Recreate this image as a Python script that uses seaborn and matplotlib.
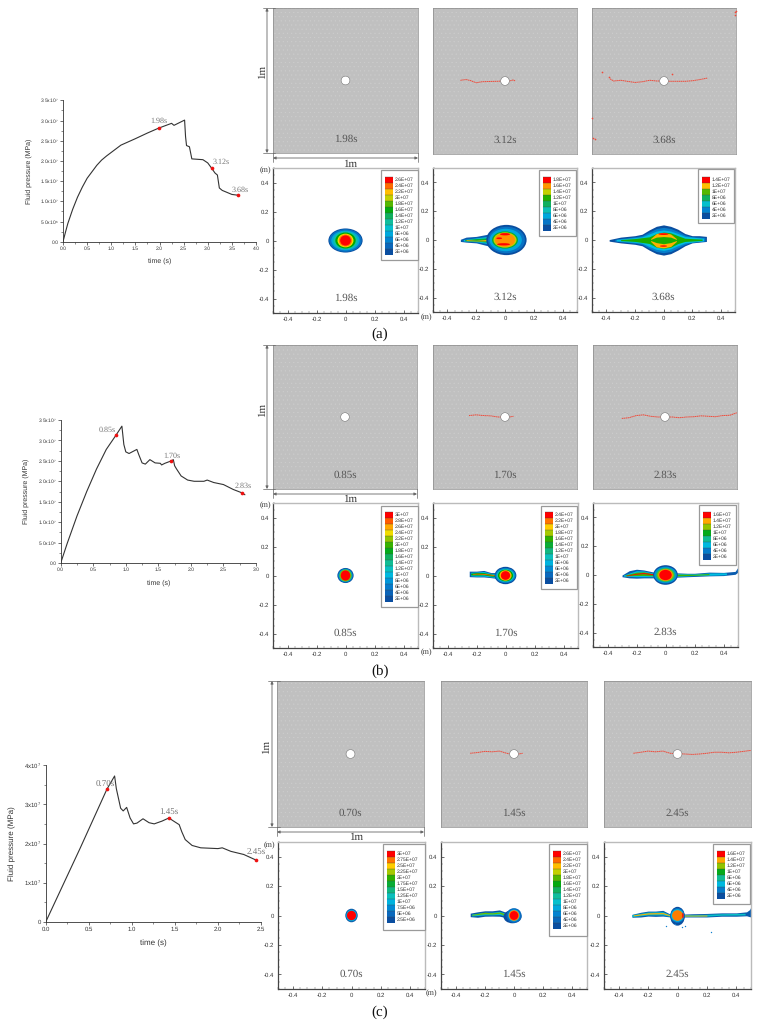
import matplotlib
matplotlib.use("Agg")
import matplotlib.pyplot as plt
from matplotlib.colors import LinearSegmentedColormap
from matplotlib.patches import Ellipse, Rectangle, Circle
from matplotlib.ticker import MultipleLocator
import pandas as pd
import seaborn as sns

# ---------- pressure curves (time s, pressure x 1e7 MPa) ----------
t_a = [0, .05, .1, .2, .3, .4, .5, .6, .7, .8, .9, 1, 1.2, 1.5, 1.75, 1.98, 2.25, 2.3, 2.52, 2.54, 2.56, 2.62, 2.67, 2.9, 3.0, 3.08, 3.15, 3.2, 3.24, 3.3, 3.5, 3.63]
p_a = [0, .23, .45, .8, 1.1, 1.35, 1.57, 1.73, 1.89, 2.02, 2.12, 2.21, 2.39, 2.55, 2.69, 2.81, 2.93, 2.88, 3.01, 2.6, 2.38, 2.35, 2.05, 2.03, 1.95, 1.82, 1.7, 1.65, 1.33, 1.27, 1.17, 1.15]
t_b = [0, .1, .25, .4, .55, .7, .85, .94, .97, 1.0, 1.05, 1.17, 1.2, 1.25, 1.3, 1.37, 1.45, 1.53, 1.55, 1.6, 1.7, 1.73, 1.75, 1.78, 1.85, 1.95, 2.05, 2.2, 2.25, 2.35, 2.5, 2.65, 2.78, 2.83]
p_b = [0, .48, 1.15, 1.75, 2.3, 2.78, 3.13, 3.35, 2.9, 2.72, 2.68, 2.78, 2.65, 2.45, 2.42, 2.53, 2.45, 2.44, 2.4, 2.44, 2.5, 2.53, 2.38, 2.3, 2.13, 2.03, 2.0, 2.0, 2.03, 1.97, 1.92, 1.8, 1.72, 1.67]
t_c = [0, .4, .71, .8, .82, .85, .87, .9, .94, .98, 1.02, 1.06, 1.13, 1.2, 1.26, 1.35, 1.43, 1.5, 1.55, 1.58, 1.62, 1.7, 1.8, 2.0, 2.05, 2.15, 2.3, 2.44]
p_c = [0, 1.88, 3.38, 3.72, 3.4, 3.1, 2.9, 2.83, 2.92, 2.65, 2.5, 2.52, 2.63, 2.53, 2.5, 2.57, 2.65, 2.55, 2.48, 2.3, 2.1, 1.95, 1.89, 1.87, 1.89, 1.8, 1.72, 1.58]
mark_t_a = [1.98, 3.08, 3.63]; mark_p_a = [2.81, 1.82, 1.15]
mark_t_b = [.85, 1.69, 2.78]; mark_p_b = [3.13, 2.5, 1.72]
mark_t_c = [.71, 1.43, 2.44]; mark_p_c = [3.38, 2.65, 1.58]
times_a = ["1.98s", "3.12s", "3.68s"]
times_b = ["0.85s", "1.70s", "2.83s"]
times_c = ["0.70s", "1.45s", "2.45s"]
yt_a = ["0.0", "5.0x10$^{6}$", "1.0x10$^{7}$", "1.5x10$^{7}$", "2.0x10$^{7}$", "2.5x10$^{7}$", "3.0x10$^{7}$", "3.5x10$^{7}$"]
yt_c = ["0", "1x10$^{7}$", "2x10$^{7}$", "3x10$^{7}$", "4x10$^{7}$"]

# ---------- legend levels ----------
lv_a1 = ["2.6E+07", "2.4E+07", "2.2E+07", "2E+07", "1.8E+07", "1.6E+07", "1.4E+07", "1.2E+07", "1E+07", "8E+06", "6E+06", "4E+06", "2E+06"]
lv_a2 = lv_a1[4:]
lv_a3 = lv_a1[6:]
lv_b1 = ["3E+07", "2.8E+07"] + lv_a1
lv_b2 = lv_a1[1:]
lv_b3 = lv_a1[5:]
lv_c1 = ["3E+07", "2.75E+07", "2.5E+07", "2.25E+07", "2E+07", "1.75E+07", "1.5E+07", "1.25E+07", "1E+07", "7.5E+06", "5E+06", "2.5E+06"]
lv_c2 = lv_a1
lv_c3 = lv_a1[5:]

# ---------- crack traces (x, y in m) ----------
crack_a2_x = [-.31, -.27, -.24, -.2, -.16, -.1, -.05, -.02, .03, .06, .07]
crack_a2_y = [.005, .01, .003, -.012, -.005, -.003, -.002, 0, 0, .008, 0]
crack_a3_x = [-.375, -.35, -.3, -.25, -.2, -.15, -.1, -.05, -.02, .05, .1, .15, .2, .25, .3]
crack_a3_y = [.015, .0, .005, -.003, -.01, -.005, .005, 0, 0, -.002, -.002, -.002, .002, .01, .02]
spots_a3_x = [-.43, -.38, .055, .49, .495, .5, -.5, -.495, -.48]
spots_a3_y = [.06, .03, .05, .47, .45, .48, -.25, -.39, -.4]
crack_b2_x = [-.25, -.2, -.15, -.1, -.05, -.02]
crack_b2_y = [.01, .015, .01, .008, 0, 0]
crack_b2r_x = [.03, .06]
crack_b2r_y = [0, .005]
crack_b3_x = [-.3, -.25, -.2, -.15, -.1, -.05, .05, .1, .15, .2, .25, .3, .35, .4, .45, .5]
crack_b3_y = [-.01, -.005, .01, .015, .005, 0, 0, -.005, 0, .002, .008, .005, .002, .01, .012, .03]
crack_c2_x = [-.3, -.25, -.2, -.15, -.1, -.05, -.02, .03, .06]
crack_c2_y = [.005, .01, .018, .015, .02, .005, 0, 0, .005]
crack_c3_x = [-.3, -.25, -.2, -.15, -.1, -.05, .05, .1, .15, .2, .25, .3, .35, .4, .45, .5]
crack_c3_y = [.005, .012, .02, .015, .02, .005, 0, -.003, 0, .005, .012, .012, .008, .012, .018, .025]

# ---------- pressure fields: (level, cx, cy, rx, ry) and (level, x, top, bottom) ----------
ell_a1 = [(0, 0, 0, .118, .083), (.12, 0, 0, .112, .078), (.25, 0, 0, .098, .068), (.4, 0, 0, .085, .062),
          (.6, 0, 0, .07, .055), (.8, 0, 0, .055, .047), (.9, 0, 0, .046, .042), (1, 0, 0, .037, .035)]
band_a2 = [(.05, [-.31, -.27, -.2, -.12, -.07], [.005, .02, .025, .04, .08], [-.01, -.015, -.02, -.04, -.07]),
           (.3, [-.29, -.2, -.12, -.07], [.003, .015, .025, .05], [-.007, -.012, -.025, -.05]),
           (.55, [-.28, -.2, -.12, -.07], [.002, .01, .015, .035], [-.005, -.008, -.015, -.035]),
           (.85, [-.27, -.2, -.12, -.05], [.002, -.002, .004, .012], [-.004, -.006, -.006, -.012])]
ell_a2 = [(0, .01, 0, .14, .105), (.12, .01, 0, .128, .092), (.25, .005, 0, .112, .078), (.55, 0, 0, .09, .06),
          (.75, 0, 0, .08, .053), (.88, 0, 0, .07, .048)]
red_a2 = [(1, 0, .04, .035, .008), (1, -.01, -.03, .045, .008), (1, -.04, .012, .02, .006)]
band_a3 = [(0, [-.38, -.3, -.2, -.15, -.1, -.05, 0, .05, .1, .15, .2, .25, .3],
            [.003, .02, .03, .04, .07, .095, .105, .095, .075, .045, .03, .03, .025],
            [-.008, -.02, -.03, -.04, -.07, -.095, -.105, -.095, -.07, -.04, -.02, -.015, -.01]),
           (.15, [-.34, -.2, -.15, -.1, -.05, 0, .05, .1, .15, .2, .29],
            [.005, .022, .03, .055, .08, .088, .08, .06, .035, .022, .018],
            [-.008, -.022, -.03, -.058, -.08, -.088, -.08, -.055, -.03, -.015, -.008]),
           (.3, [-.33, -.2, -.15, -.1, -.05, 0, .05, .1, .15, .28],
            [.004, .016, .022, .042, .062, .07, .062, .045, .025, .012],
            [-.006, -.016, -.022, -.045, -.065, -.072, -.062, -.04, -.02, -.006]),
           (.62, [-.3, -.2, -.1, -.05, 0, .05, .1, .15, .27],
            [.003, .01, .022, .045, .055, .05, .03, .012, .006],
            [-.004, -.01, -.024, -.05, -.058, -.05, -.025, -.01, -.003]),
           (.85, [-.09, -.05, 0, .05, .09], [.01, .045, .052, .042, .01], [-.01, -.048, -.055, -.045, -.01]),
           (.62, [-.1, -.05, 0, .05, .1], [0, .02, .024, .02, 0], [0, -.018, -.026, -.018, 0])]
red_a3 = [(1, .0, .041, .035, .006), (1, .0, -.042, .025, .005)]
ell_b1 = [(0, 0, 0, .056, .052), (.2, 0, 0, .05, .047), (.45, 0, 0, .044, .042), (.7, 0, 0, .04, .04), (1, 0, 0, .033, .035)]
band_b2 = [(.05, [-.25, -.2, -.15, -.1, -.06], [.03, .03, .035, .02, .02], [-.008, -.01, -.01, -.015, -.02]),
           (.3, [-.24, -.2, -.15, -.1, -.06], [.022, .024, .028, .014, .012], [-.002, -.005, -.004, -.01, -.012]),
           (.6, [-.24, -.2, -.15, -.1, -.06], [.016, .02, .02, .01, .006], [.004, .003, .004, -.004, -.006]),
           (.92, [-.23, -.2, -.15, -.1, -.05], [.012, .016, .014, .008, .002], [.008, .01, .008, .002, -.002])]
ell_b2 = [(0, 0, 0, .075, .06), (.15, 0, 0, .07, .052), (.35, 0, 0, .062, .045), (.6, 0, 0, .052, .04), (.85, 0, 0, .042, .036), (1, 0, 0, .032, .03)]
band_b3 = [(.05, [-.3, -.25, -.2, -.15, -.08, .08, .15, .2, .3, .4, .48, .5],
            [.0, .03, .04, .035, .02, .015, .012, .012, .02, .018, .025, .055],
            [-.012, -.02, -.022, -.02, -.02, -.015, -.012, -.01, -.006, -.004, .005, .02]),
           (.3, [-.29, -.2, -.15, -.08, .08, .2, .3, .42], [.0, .03, .028, .012, .01, .008, .014, .015], [-.008, -.012, -.012, -.012, -.01, -.004, -.002, .002]),
           (.65, [-.28, -.2, -.15, -.08, .08, .2, .3], [.0, .02, .022, .008, .006, .005, .01], [-.005, -.004, -.003, -.006, -.006, -.002, .002]),
           (1, [-.27, -.2, -.15, -.06], [-.002, .012, .017, .005], [-.006, .006, .01, -.002])]
ell_b3 = [(0, 0, 0, .085, .068), (.2, 0, 0, .078, .058), (.45, 0, 0, .068, .05), (.7, 0, 0, .058, .044), (.88, 0, 0, .05, .04), (1, 0, 0, .043, .036)]
ell_c1 = [(0, 0, 0, .042, .046), (.25, 0, 0, .037, .04), (1, 0, 0, .031, .032)]
band_c2 = [(.03, [-.3, -.25, -.2, -.15, -.1, -.05], [.016, .025, .032, .032, .038, .02], [-.008, -.012, -.005, -.004, -.005, -.015]),
           (.35, [-.29, -.2, -.15, -.1, -.05], [.01, .022, .022, .028, .014], [-.003, .004, .004, .006, -.006]),
           (.68, [-.29, -.2, -.15, -.1, -.05], [.007, .022, .018, .024, .008], [.002, .012, .01, .015, -.002])]
ell_c2 = [(0, -.01, -.008, .062, .045), (.1, 0, 0, .052, .05), (.3, 0, 0, .04, .04), (.9, 0, 0, .036, .036), (1, 0, 0, .029, .03)]
band_c3 = [(.05, [-.31, -.25, -.2, -.15, -.1, -.05, .05, .1, .2, .3, .4, .47, .49, .5],
            [.008, .022, .03, .03, .035, .01, .01, .012, .014, .018, .018, .025, .04, .06],
            [-.012, -.01, -.004, -.006, -.004, -.01, -.01, -.01, -.01, -.005, -.005, -.002, -.008, -.01]),
           (.35, [-.31, -.2, -.1, -.05, .05, .1, .2, .3, .46], [.006, .024, .026, .006, .006, .006, .008, .012, .015], [-.008, .004, .004, -.006, -.006, -.006, -.004, .002, .004]),
           (.85, [-.3, -.2, -.1, -.05, .05, .1, .2], [.004, .018, .02, .003, .003, .002, .003], [-.002, .01, .012, -.003, -.003, -.003, -.003])]
ell_c3 = [(0, 0, -.005, .05, .064), (.12, 0, 0, .048, .05), (.3, 0, 0, .044, .042), (.9, 0, 0, .037, .036)]
red_c3 = [(1, .037, 0, .005, .02)]
spots_c3_x = [-.08, .05, .23, -.02, .03]
spots_c3_y = [-.07, -.07, -.115, -.06, -.075]

# ---------- styling ----------
sns.set_theme(style="ticks")
plt.rcParams["font.family"] = ["Liberation Sans", "DejaVu Sans"]
plt.rcParams["mathtext.default"] = "regular"
plt.rcParams["hatch.linewidth"] = 0.3
plt.rcParams["text.hinting"] = "no_hinting"
plt.rcParams["text.hinting_factor"] = 1
W, H = 758, 1024
fig = plt.figure(figsize=(W / 100, H / 100), dpi=100, facecolor="white")
SERIF = "Liberation Serif"
cmap = LinearSegmentedColormap.from_list("tecplot", [
    (0, "#0a4ea0"), (.1, "#0a6cc0"), (.2, "#0090d8"), (.3, "#00c0e0"), (.4, "#10c0a8"), (.5, "#10b060"),
    (.6, "#00a800"), (.7, "#80c000"), (.8, "#ffe000"), (.9, "#ff8000"), (1, "#ff0000")])


def px_axes(x0, y0, x1, y1):
    return fig.add_axes([x0 / W, 1 - y1 / H, (x1 - x0) / W, (y1 - y0) / H])


def curve_panel(box, t, p, mt, mp, labels, label_xy, xmax, xstep, ymax, ystep, yticks, fs, ls, title_fs, xlab_off, ylab_off):
    ax = px_axes(*box)
    sns.lineplot(data=pd.DataFrame({"t": t, "p": p}), x="t", y="p", ax=ax, color="#333333", lw=0.8, sort=False, errorbar=None)
    sns.scatterplot(data=pd.DataFrame({"t": mt, "p": mp}), x="t", y="p", ax=ax, color="#ee1111", s=7, linewidth=0, zorder=5, clip_on=False)
    ax.set_xlim(0, xmax)
    ax.set_ylim(0, ymax)
    ax.xaxis.set_major_locator(MultipleLocator(xstep))
    ax.xaxis.set_minor_locator(MultipleLocator(xstep / 2))
    ax.set_yticks([i * ystep for i in range(len(yticks))], yticks)
    ax.yaxis.set_minor_locator(MultipleLocator(ystep / 2))
    ax.tick_params(which="major", length=2.2, width=0.5, labelsize=fs, pad=1, color="#333333", labelcolor="#333333")
    ax.tick_params(which="minor", length=1.2, width=0.4, color="#333333")
    ax.set_xlabel("time (s)", fontsize=title_fs, labelpad=xlab_off, color="#333333")
    ax.set_ylabel("Fluid pressure (MPa)", fontsize=title_fs, labelpad=ylab_off, color="#333333")
    sns.despine(ax=ax)
    for s in ("left", "bottom"):
        ax.spines[s].set_linewidth(0.6)
        ax.spines[s].set_color("#333333")
    for txt, (x, y) in zip(labels, label_xy):
        ax.text(x, y, txt, family=SERIF, fontsize=ls, color="#777777", ha="center", va="center")
    return ax


def gray_panel(box, time_label, crack_sets=(), spots=None, text_y=.095):
    ax = px_axes(*box)
    ax.set_xlim(-.5, .5)
    ax.set_ylim(-.5, .5)
    ax.set_xticks([])
    ax.set_yticks([])
    ax.set_facecolor("#c0c0c0")
    ax.add_patch(Rectangle((-.5, -.5), 1, 1, facecolor="none", edgecolor="#cdcdcd", hatch="....", lw=0))
    for s in ax.spines.values():
        s.set_linewidth(0.5)
        s.set_color("#8a8a8a")
        s.set_linestyle((0, (2, 1)))
    for cx, cy in crack_sets:
        sns.lineplot(x=cx, y=cy, ax=ax, color="#f04a3a", lw=0.7, ls=(0, (1.5, 0.5)), sort=False, errorbar=None)
    if spots is not None:
        ax.scatter(spots[0], spots[1], s=1.5, color="#f04a3a", linewidths=0, clip_on=False, zorder=4)
    ax.add_patch(Circle((0, 0), .03, facecolor="white", edgecolor="#777777", lw=0.4, zorder=5))
    ax.text(.5, text_y, time_label, transform=ax.transAxes, family=SERIF, fontsize=8, color="#555555", ha="center", va="center")
    return ax


def field_panel(box, time_label, layers, spots=None, text_y=.1):
    ax = px_axes(*box)
    ax.set_xlim(-.5, .5)
    ax.set_ylim(-.5, .5)
    ax.set_xticks([-.4, -.2, 0, .2, .4], ["-0.4", "-0.2", "0", "0.2", "0.4"])
    ax.set_yticks([-.4, -.2, 0, .2, .4], ["-0.4", "-0.2", "0", "0.2", "0.4"])
    ax.xaxis.set_minor_locator(MultipleLocator(.05))
    ax.yaxis.set_minor_locator(MultipleLocator(.05))
    ax.tick_params(which="major", direction="in", length=2.5, width=0.5, labelsize=4, pad=2.5, color="#333333", labelcolor="#333333")
    ax.tick_params(which="minor", direction="in", length=1.2, width=0.3, color="#555555")
    for s in ("left", "bottom"):
        ax.spines[s].set_linewidth(0.9)
        ax.spines[s].set_color("#444444")
    for s in ("top", "right"):
        ax.spines[s].set_linewidth(1.0)
        ax.spines[s].set_color("#bbbbbb")
    for layer in layers:
        if len(layer) == 5:
            lvl, cx, cy, rx, ry = layer
            ax.add_patch(Ellipse((cx, cy), 2 * rx, 2 * ry, facecolor=cmap(float(lvl)), edgecolor="none"))
        else:
            lvl, xs, top, bot = layer
            ax.fill_between(xs, bot, top, color=cmap(float(lvl)), linewidth=0)
    if spots is not None:
        ax.scatter(spots[0], spots[1], s=1, color="#1080d0", linewidths=0)
    ax.text(.5, text_y, time_label, transform=ax.transAxes, family=SERIF, fontsize=8, color="#555555", ha="center", va="center")
    return ax


over = fig.add_axes([0, 0, 1, 1], zorder=20)
over.set_xlim(0, W)
over.set_ylim(H, 0)
over.axis("off")
over.patch.set_alpha(0)


def legend_box(x0, y0, x1, y1, first, labels):
    over.add_patch(Rectangle((x0, y0), x1 - x0, y1 - y0, facecolor="white", edgecolor="#9a9a9a", lw=0.9))
    n = len(labels)
    for i, lab in enumerate(labels):
        f = 1 - i / (n - 1)
        yy = first + 6 * i
        over.add_patch(Rectangle((x0 + 3.5, yy), 8, 6, facecolor=cmap(float(f)), edgecolor="none"))
        over.plot([x0 + 3.5, x0 + 11.5], [yy, yy], color="#444444", lw=0.25)
        over.text(x0 + 14, yy + 3, lab, fontsize=3.4, color="#333333", va="center", ha="left")


def dim_marks(vx, vy0, vy1, hy, hx0, hx1, vtext, htext):
    for (a, b) in [((vx, vy0), (vx, vy1)), ((hx0, hy), (hx1, hy))]:
        over.annotate("", xy=a, xytext=b, arrowprops=dict(arrowstyle="<|-|>", lw=0.6, color="#666666", mutation_scale=4, shrinkA=0, shrinkB=0))
    over.plot([vx - 4, vx + 8], [vy0, vy0], color="#666666", lw=0.5)
    over.plot([vx - 4, vx + 8], [vy1, vy1], color="#666666", lw=0.5)
    over.plot([hx0, hx0], [hy - 5, hy + 4], color="#666666", lw=0.5)
    over.plot([hx1, hx1], [hy - 5, hy + 4], color="#666666", lw=0.5)
    over.text(vtext[0], vtext[1], "1m", rotation=90, family=SERIF, fontsize=8, color="#333333", ha="center", va="center")
    over.text(htext[0], htext[1], "1m", family=SERIF, fontsize=8, color="#333333", ha="center", va="center")


# ---------- pressure curves ----------
curve_panel((63, 100.3, 256, 241.7), t_a, p_a, mark_t_a, mark_p_a, times_a,
            [(1.98, 2.98), (3.27, 1.97), (3.67, 1.28)], 4, .5, 3.5, .5, yt_a, 3.4, 5.5, 4.8, 5, 6)
curve_panel((60.7, 420, 256, 563), t_b, p_b, mark_t_b, mark_p_b, times_b,
            [(.72, 3.25), (1.71, 2.63), (2.8, 1.89)], 3, .5, 3.5, .5, yt_a, 3.4, 5.5, 4.8, 5, 6)
curve_panel((45.7, 765, 261, 922), t_c, p_c, mark_t_c, mark_p_c, times_c,
            [(.69, 3.51), (1.43, 2.79), (2.44, 1.77)], 2.5, .5, 4, 1, yt_c, 4, 6.5, 5.6, 5.5, 6)

# ---------- specimen views ----------
gray_panel((273, 8, 418, 153), times_a[0])
gray_panel((433, 8, 577, 154), times_a[1], [(crack_a2_x, crack_a2_y)])
gray_panel((592, 8, 736, 154), times_a[2], [(crack_a3_x, crack_a3_y)], (spots_a3_x, spots_a3_y))
gray_panel((273, 345, 417, 489), times_b[0])
gray_panel((433, 345, 577, 489), times_b[1], [(crack_b2_x, crack_b2_y), (crack_b2r_x, crack_b2r_y)])
gray_panel((593, 345, 737, 489), times_b[2], [(crack_b3_x, crack_b3_y)])
gray_panel((277, 681, 424, 827), times_c[0])
gray_panel((441, 681, 587, 827), times_c[1], [(crack_c2_x, crack_c2_y)])
gray_panel((604, 681, 751, 827), times_c[2], [(crack_c3_x, crack_c3_y)])

# ---------- pressure fields ----------
field_panel((273, 168, 418, 313), times_a[0], ell_a1)
field_panel((433, 168, 577, 312), times_a[1], band_a2 + ell_a2 + red_a2)
field_panel((592, 168, 735, 312), times_a[2], band_a3 + red_a3)
field_panel((273, 503, 418, 648), times_b[0], ell_b1)
field_panel((433, 503, 578, 648), times_b[1], band_b2 + ell_b2)
field_panel((593, 503, 738, 647), times_b[2], band_b3 + ell_b3)
field_panel((278, 842, 425, 989), times_c[0], ell_c1)
field_panel((441, 842, 587, 989), times_c[1], band_c2 + ell_c2)
field_panel((604, 842, 751, 989), times_c[2], band_c3 + ell_c3 + red_c3, (spots_c3_x, spots_c3_y))

# ---------- legends ----------
legend_box(381, 170, 418, 260, 176.7, lv_a1)
legend_box(539, 170, 576, 236, 177, lv_a2)
legend_box(698, 169, 734, 223, 177, lv_a3)
legend_box(381, 506, 418, 607, 512, lv_b1)
legend_box(541, 506, 577, 589, 512, lv_b2)
legend_box(699, 505, 736, 565, 512, lv_b3)
legend_box(383, 844, 425, 930, 851, lv_c1)
legend_box(549, 844, 587, 936, 851, lv_c2)
legend_box(713, 844, 750, 904, 851, lv_c3)

# ---------- dimension marks and captions ----------
dim_marks(267, 8, 153, 158, 273, 418, (262, 72), (350, 164))
dim_marks(267, 345, 489, 494, 273, 417, (262, 410), (350, 499))
dim_marks(272, 681, 827, 832, 277, 424, (266, 747), (356, 837))
for xy in [(265, 170), (265, 505), (269, 845), (426, 317), (426, 652), (431, 993)]:
    over.text(xy[0], xy[1], "(m)", family=SERIF, fontsize=5.5, color="#333333", ha="center", va="center")
for lab, y in [("a", 334), ("b", 671), ("c", 1012)]:
    over.text(380, y, f"({lab})", family=SERIF, fontsize=11, color="#111111", ha="center", va="center")

fig.savefig("out.png", dpi=100, facecolor="white")
